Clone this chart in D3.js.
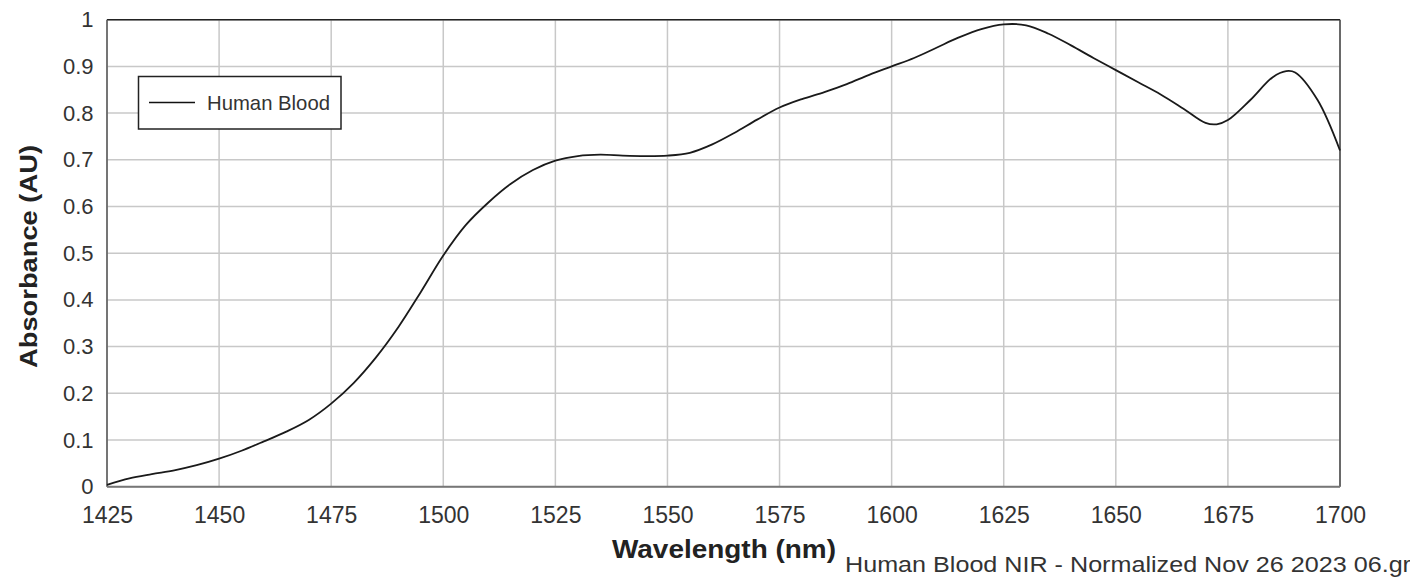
<!DOCTYPE html>
<html><head><meta charset="utf-8">
<script src="https://cdn.jsdelivr.net/npm/d3@7"></script>
<style>html,body{margin:0;padding:0;background:#fff;overflow:hidden}svg{display:block}</style>
</head><body><svg id="c" width="1410" height="581"></svg>
<script>
const wavelengths = [1425,1430,1435,1440,1445,1450,1455,1460,1465,1470,1475,1480,1485,1490,1495,1500,1505,1510,1515,1520,1525,1530,1535,1540,1545,1550,1555,1560,1565,1570,1575,1580,1585,1590,1595,1600,1605,1610,1615,1620,1625,1630,1635,1640,1645,1650,1655,1660,1665,1670,1672.5,1675,1680,1685,1688,1690,1695,1700];
const absorbance = [0.004,0.018,0.027,0.035,0.046,0.06,0.077,0.097,0.118,0.143,0.178,0.222,0.277,0.342,0.417,0.495,0.56,0.608,0.648,0.678,0.698,0.708,0.711,0.709,0.708,0.709,0.715,0.733,0.758,0.786,0.812,0.83,0.845,0.862,0.882,0.9,0.918,0.94,0.962,0.98,0.99,0.988,0.97,0.945,0.918,0.892,0.866,0.84,0.81,0.779,0.776,0.785,0.828,0.877,0.89,0.887,0.828,0.72];
const xTicks = [1425,1450,1475,1500,1525,1550,1575,1600,1625,1650,1675,1700];
const yTicks = [0,0.1,0.2,0.3,0.4,0.5,0.6,0.7,0.8,0.9,1];
const seriesName = "Human Blood";
const xTitle = "Wavelength (nm)";
const yTitle = "Absorbance (AU)";
const footer = "Human Blood NIR - Normalized Nov 26 2023 06.gr";

const svg = d3.select("#c");
const L = 107, R = 1340, T = 19.7, B = 486.7;
const x = d3.scaleLinear().domain([1425,1700]).range([L,R]);
const y = d3.scaleLinear().domain([0,1]).range([B,T]);
const font = "Arial, 'Liberation Sans', Helvetica, sans-serif";

// grid
const g = svg.append("g");
g.selectAll("line.vx").data(xTicks).join("line")
  .attr("x1", d=>x(d)).attr("x2", d=>x(d)).attr("y1", T).attr("y2", B)
  .attr("stroke", "#c8c8c8").attr("stroke-width", 1.5);
g.selectAll("line.hy").data(yTicks).join("line")
  .attr("x1", L).attr("x2", R).attr("y1", d=>y(d)).attr("y2", d=>y(d))
  .attr("stroke", "#c8c8c8").attr("stroke-width", 1.5);

// axes with d3
const xAxis = d3.axisBottom(x).tickValues(xTicks).tickSize(0).tickPadding(20).tickFormat(d3.format("d"));
const ax = svg.append("g").attr("transform", `translate(0,${B})`).call(xAxis);
ax.select(".domain").remove();
ax.selectAll("text").attr("font-family", font).attr("font-size", 23).attr("fill", "#333").attr("dy", "0.71em");
const yAxis = d3.axisLeft(y).tickValues(yTicks).tickSize(0).tickPadding(13.5).tickFormat(d => d===0||d===1 ? String(d) : d3.format(".1f")(d));
const ay = svg.append("g").attr("transform", `translate(${L},0)`).call(yAxis);
ay.select(".domain").remove();
ay.selectAll("text").attr("font-family", font).attr("font-size", 22).attr("fill", "#333");

// frame
svg.append("line").attr("x1", L).attr("x2", R).attr("y1", T).attr("y2", T).attr("stroke", "#222").attr("stroke-width", 1.5);
svg.append("line").attr("x1", R).attr("x2", R).attr("y1", T).attr("y2", B).attr("stroke", "#444").attr("stroke-width", 1.5);
svg.append("line").attr("x1", L).attr("x2", L).attr("y1", T).attr("y2", B).attr("stroke", "#555").attr("stroke-width", 1.5);
svg.append("line").attr("x1", L).attr("x2", R).attr("y1", B).attr("y2", B).attr("stroke", "#777").attr("stroke-width", 2);

// curve
const data = wavelengths.map((w,i)=>({w, a: absorbance[i]}));
const line = d3.line().x(d=>x(d.w)).y(d=>y(d.a)).curve(d3.curveCatmullRom.alpha(0.5));
svg.append("path").datum(data).attr("d", line).attr("fill", "none").attr("stroke", "#1a1a1a").attr("stroke-width", 1.8);

// legend
const lg = svg.append("g");
lg.append("rect").attr("x", 138.5).attr("y", 76.5).attr("width", 202.5).attr("height", 52.5)
  .attr("fill", "#fff").attr("stroke", "#222").attr("stroke-width", 1.5);
lg.append("line").attr("x1", 149).attr("x2", 195).attr("y1", 102.5).attr("y2", 102.5).attr("stroke", "#111").attr("stroke-width", 1.5);
lg.append("text").attr("x", 207).attr("y", 110).attr("font-family", font).attr("font-size", 21)
  .attr("fill", "#333").attr("textLength", 123).attr("lengthAdjust", "spacingAndGlyphs").text(seriesName);

// titles
svg.append("text").attr("x", 724).attr("y", 558).attr("text-anchor", "middle")
  .attr("font-family", font).attr("font-weight", "bold").attr("font-size", 25).attr("fill", "#222")
  .attr("textLength", 224).attr("lengthAdjust", "spacingAndGlyphs").text(xTitle);
svg.append("text").attr("transform", "translate(37,256.5) rotate(-90)").attr("text-anchor", "middle")
  .attr("font-family", font).attr("font-weight", "bold").attr("font-size", 24).attr("fill", "#222")
  .attr("textLength", 223).attr("lengthAdjust", "spacingAndGlyphs").text(yTitle);
svg.append("text").attr("x", 845).attr("y", 572).attr("font-family", font).attr("font-size", 22)
  .attr("fill", "#333").attr("textLength", 566).attr("lengthAdjust", "spacingAndGlyphs").text(footer);
</script></body></html>
